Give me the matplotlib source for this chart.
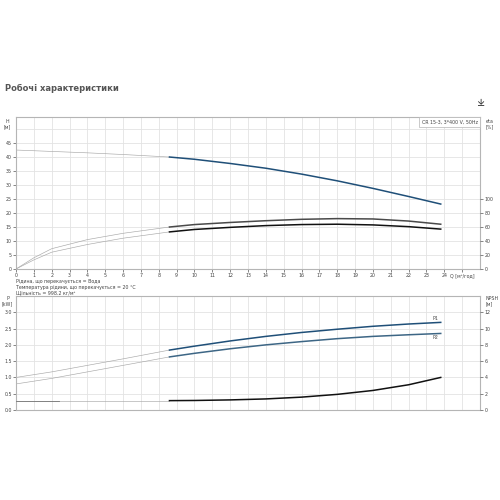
import numpy as np
import matplotlib
matplotlib.use('Agg')
import matplotlib.pyplot as plt

# ---------------- data ----------------
# head curve, faint extension + working range
q_h_ext = [0, 2, 4, 6, 8.6]
h_ext = [42.5, 42.0, 41.5, 40.9, 40.0]
q_h = [8.6, 10, 12, 14, 16, 18, 20, 22, 23.8]
h_val = [40.0, 39.2, 37.7, 36.0, 33.9, 31.5, 28.8, 25.9, 23.2]

# efficiency curves [%]
q_eta_ext = [0, 1, 2, 4, 6, 8.6]
eta1_ext = [0, 16, 29, 42, 51, 60]
eta2_ext = [0, 13, 24, 35, 44, 53]
q_eta = [8.6, 10, 12, 14, 16, 18, 20, 22, 23.8]
eta1 = [60, 63.5, 66.5, 69, 71, 72, 71.5, 68.5, 64]
eta2 = [53, 56.5, 59.5, 62, 63.5, 64, 63, 60.5, 57]

# power [kW]
q_p_ext = [0, 2, 4, 6, 8.6]
p1_ext = [1.0, 1.17, 1.37, 1.57, 1.84]
p2_ext = [0.8, 0.97, 1.17, 1.37, 1.63]
q_p = [8.6, 10, 12, 14, 16, 18, 20, 22, 23.8]
p1 = [1.84, 1.96, 2.12, 2.26, 2.38, 2.48, 2.57, 2.64, 2.69]
p2 = [1.63, 1.74, 1.88, 2.00, 2.10, 2.19, 2.26, 2.31, 2.35]

# NPSH [m]
q_npsh_ext = [0, 8.6]
npsh_ext = [1.15, 1.15]
q_npsh = [8.6, 10, 12, 14, 16, 18, 20, 22, 23.8]
npsh = [1.15, 1.17, 1.24, 1.36, 1.58, 1.92, 2.4, 3.1, 4.0]

x_ticks = list(range(0, 25))
h_ticks = [0, 5, 10, 15, 20, 25, 30, 35, 40, 45]
eta_ticks = [0, 20, 40, 60, 80, 100]
p_ticks = [0.0, 0.5, 1.0, 1.5, 2.0, 2.5, 3.0]
npsh_ticks = [0, 2, 4, 6, 8, 10, 12]

info_lines = ["Рідина, що перекачується = Вода",
              "Температура рідини, що перекачується = 20 °C",
              "Щільність = 998.2 кг/м³"]

# ---------------- style ----------------
plt.rcParams['font.family'] = 'DejaVu Sans'
all_fonts = ['DejaVu Sans', 'Noto Sans', 'Noto Sans CJK SC', 'Liberation Sans',
             'Roboto', 'Open Sans', 'Lato', 'Inter', 'DejaVu Sans Mono', 'DejaVu Serif']
tick_fs = 3.4
spine_col = '#b5b5b5'
grid_col = '#e3e3e3'
text_col = '#444444'
blue = '#1f4f78'
blue2 = '#3d6685'
faint = '#a8a8a8'
lw_thick = 1.1
lw_thin = 0.45

fig = plt.figure(figsize=(5, 5), dpi=100)
fig.patch.set_facecolor('white')

fig.text(0.01, 0.823, "Робочі характеристики", fontsize=6.0, fontweight='bold',
         color='#555555', va='center', ha='left')
fig.text(0.963, 0.793, "⤓", fontsize=7, color='#222222', ha='center', va='center',
         family=all_fonts)


def style_axes(ax, xmax, ymax, grid_y):
    ax.set_xlim(0, xmax)
    ax.set_ylim(0, ymax)
    for s in ax.spines.values():
        s.set_color(spine_col)
        s.set_linewidth(0.8)
    # grid lines drawn by hand-free axhline/axvline over the scale
    for gx in np.arange(1, 26, 1):
        ax.axvline(gx, color=grid_col, lw=0.6, zorder=0)
    for gy in grid_y[1:]:
        ax.axhline(gy, color=grid_col, lw=0.6, zorder=0)
    ax.tick_params(which='major', direction='out', length=2, width=0.5,
                   color='#555555', labelsize=tick_fs, labelcolor=text_col, pad=1.0)


# ---------------- top chart: H and eta ----------------
ax1 = fig.add_axes([0.032, 0.462, 0.928, 0.304])
style_axes(ax1, 26, 54.3, np.arange(0, 55, 5))
ax1.set_xticks(x_ticks + [25])
ax1.set_xticklabels([str(v) for v in x_ticks] + ["Q [м³/год]"])
ax1.set_yticks(h_ticks)
ax1.set_yticklabels([str(v) for v in h_ticks])

ax1.plot(q_h_ext, h_ext, color=faint, lw=lw_thin)
ax1.plot(q_h, h_val, color=blue, lw=lw_thick)

ax1r = ax1.twinx()
ax1r.set_ylim(0, 54.3 * 4)
ax1r.set_yticks(eta_ticks)
ax1r.set_yticklabels([str(v) for v in eta_ticks])
for s in ax1r.spines.values():
    s.set_visible(False)
ax1r.tick_params(direction='out', length=2, width=0.5, color='#555555',
                 labelsize=tick_fs, labelcolor=text_col, pad=1.5)
ax1r.plot(q_eta_ext, eta1_ext, color=faint, lw=lw_thin)
ax1r.plot(q_eta_ext, eta2_ext, color=faint, lw=lw_thin)
ax1r.plot(q_eta, eta1, color='#4a4a4a', lw=lw_thick)
ax1r.plot(q_eta, eta2, color='#111111', lw=lw_thick)

ax1.text(-0.018, 0.985, "H\n[м]", transform=ax1.transAxes, fontsize=tick_fs,
         color=text_col, ha='center', va='top', linespacing=1.1)
ax1.text(1.012, 0.985, "eta\n[%]", transform=ax1.transAxes, fontsize=tick_fs,
         color=text_col, ha='left', va='top', linespacing=1.1)
ax1.text(0.995, 0.982, "CR 15-3, 3*400 V, 50Hz", transform=ax1.transAxes,
         fontsize=tick_fs, color=text_col, ha='right', va='top',
         bbox=dict(boxstyle='square,pad=0.5', fc='white', ec=spine_col, lw=0.5))

for i, line in enumerate(info_lines):
    fig.text(0.032, 0.437 - i * 0.0115, line, fontsize=tick_fs, color=text_col,
             ha='left', va='center')

# ---------------- bottom chart: P and NPSH ----------------
ax2 = fig.add_axes([0.032, 0.18, 0.928, 0.228])
style_axes(ax2, 26, 3.5, np.arange(0, 3.6, 0.5))
ax2.set_xticks(x_ticks)
ax2.set_xticklabels([])
ax2.tick_params(axis='x', length=0)
ax2.set_yticks(p_ticks)
ax2.set_yticklabels([f"{v:.1f}" for v in p_ticks])

ax2.plot(q_p_ext, p1_ext, color=faint, lw=lw_thin)
ax2.plot(q_p_ext, p2_ext, color=faint, lw=lw_thin)
ax2.plot(q_p, p1, color=blue, lw=lw_thick)
ax2.plot(q_p, p2, color=blue2, lw=lw_thick)
ax2.text(q_p[-1] - 0.3, p1[-1] + 0.04, "P1", fontsize=tick_fs, color=text_col,
         ha='center', va='bottom')
ax2.text(q_p[-1] - 0.3, p2[-1] - 0.04, "P2", fontsize=tick_fs, color=text_col,
         ha='center', va='top')

ax2r = ax2.twinx()
ax2r.set_ylim(0, 14)
ax2r.set_yticks(npsh_ticks)
ax2r.set_yticklabels([str(v) for v in npsh_ticks])
for s in ax2r.spines.values():
    s.set_visible(False)
ax2r.tick_params(direction='out', length=2, width=0.5, color='#555555',
                 labelsize=tick_fs, labelcolor=text_col, pad=1.5)
ax2r.plot(q_npsh_ext, npsh_ext, color=faint, lw=lw_thin)
ax2r.plot([0, 2.4], npsh_ext, color='#777777', lw=0.6)
ax2r.plot(q_npsh, npsh, color='#111111', lw=lw_thick)

ax2.text(-0.018, 1.0, "P\n[kW]", transform=ax2.transAxes, fontsize=tick_fs,
         color=text_col, ha='center', va='top', linespacing=1.1)
ax2.text(1.012, 1.0, "NPSH\n[м]", transform=ax2.transAxes, fontsize=tick_fs,
         color=text_col, ha='left', va='top', linespacing=1.1)

fig.savefig("out.png", dpi=100, facecolor='white')
